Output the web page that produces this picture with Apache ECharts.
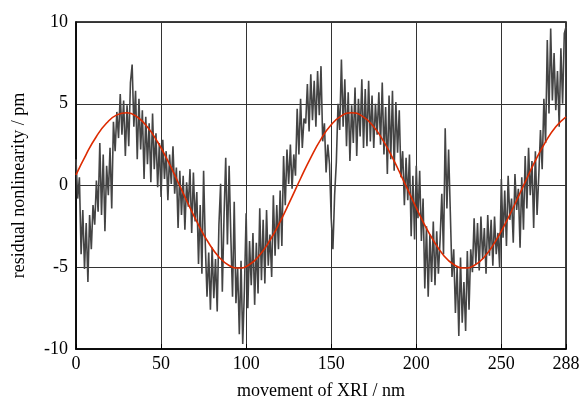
<!DOCTYPE html>
<html>
<head>
    <meta charset="utf-8">
    <title>residual nonlinearity</title>
    <script src="https://cdn.jsdelivr.net/npm/echarts@6/dist/echarts.min.js"></script>
    <style>
        html, body { margin: 0; padding: 0; background: #fff; }
    </style>
</head>
<body>
    <div id="chart" style="width: 583px;height:405px;"></div>

    <script type="text/javascript">
        // measured residual, one value per nm (x = 0..288)
        var measured = [
            1.6, -0.8, 0.5, -4.2, -1.5, -5.1, -2.3, -5.9, -1.8, -3.9,
            -1.2, -2.4, 0.3, -1.6, 2.6, -1.8, 1.9, -2.8, 1.2, -0.6,
            2.3, -1.4, 3.9, 2.1, 4.5, 2.9, 5.6, 3.1, 5.2, 1.8,
            4.9, 2.4, 6.3, 7.4, 3.6, 5.8, 1.6, 5.3, 2.2, 4.6,
            0.4, 4.2, 1.3, 3.8, 0.2, 4.4, 1.0, 3.2, -0.1, 2.6,
            -0.7, 2.8, 0.4, 2.1, -0.9, 1.9, 0.1, 2.4, -0.5, 1.1,
            -2.6, 0.9, -1.8, 0.6, -2.7, 0.2, -1.3, 1.0, -2.9, 0.8,
            -2.2, -0.4, -4.8, -1.2, -5.4, 0.9, -3.6, -6.8, -4.1, -7.6,
            -3.8, -6.9, -4.5, -7.7, -2.4, 0.1, -6.5, -1.9, 1.7, -3.6,
            1.2, -3.1, -6.8, -1.0, -7.2, -5.0, -9.1, -4.6, -9.7, -6.3,
            -1.7, -7.5, -3.4, -6.1, -2.9, -7.3, -3.5, -6.6, -1.4, -5.8,
            -2.1, -6.0, -1.5, -4.9, -3.0, -5.6, -0.6, -4.3, -1.2, -3.9,
            -0.3, -3.7, 1.8, -1.2, 2.2, 0.1, 2.5, -0.2, 1.9, 0.6,
            4.7, 1.9, 5.3, 2.3, 4.1, 3.8, 6.2, 3.3, 6.8, 4.0,
            6.4, 3.6, 7.0, 4.3, 7.3, 2.7, 3.8, 0.8, 2.5, 1.3,
            -2.0, -3.9, -0.6, 1.4, 5.0, 3.4, 7.7, 3.6, 6.5, 2.4,
            5.7, 1.5, 4.9, 2.6, 6.0, 1.8, 5.3, 3.0, 6.5, 2.3,
            5.9, 2.4, 6.4, 2.7, 5.5, 2.3, 5.0, 3.1, 5.7, 2.5,
            6.3, 1.9, 4.8, 0.7, 5.5, 1.6, 5.8, 0.9, 5.1, 2.0,
            4.6, 0.5, 2.1, -1.2, 1.7, -0.9, 1.9, -3.1, 0.6, -3.3,
            1.2, -2.0, 0.9, -3.4, -0.8, -6.3, -2.5, -6.8, -3.0, -5.9,
            -2.2, -6.1, -2.8, -5.4, -3.3, -0.5, -4.2, 3.5, -1.4, 2.2,
            -1.6, -5.6, -3.9, -7.8, -5.0, -9.2, -4.4, -8.4, -5.9, -8.9,
            -4.0, -7.6, -3.9, -5.3, -2.0, -4.8, -2.3, -5.2, -1.9, -4.5,
            -2.6, -5.4, -1.8, -4.3, -2.1, -4.9, -1.9, -4.2, -2.9, -5.0,
            0.4, -3.2, -0.3, -3.7, 0.6, -2.1, -0.8, -3.5, 0.7, -1.5,
            -0.2, -3.8, 0.5, -2.7, 1.8, -1.4, 2.3, -0.6, 1.5, -2.6,
            2.1, -1.8, 0.6, 3.4, 1.0, 5.3, 2.6, 8.9, 4.4, 9.6,
            5.2, 8.1, 4.6, 7.0, 3.6, 8.4, 5.0, 9.3, 9.7
        ];

        // fitted curve, sampled every 6 nm
        var fitX = [0, 6, 12, 18, 24, 30, 36, 42, 48, 54, 60, 66, 72, 78, 84, 90, 96,
            102, 108, 114, 120, 126, 132, 138, 144, 150, 156, 162, 168, 174, 180, 186, 192,
            198, 204, 210, 216, 222, 228, 234, 240, 246, 252, 258, 264, 270, 276, 282, 288];
        var fitY = [0.65, 1.91, 3.00, 3.82, 4.32, 4.45, 4.19, 3.58, 2.66, 1.50, 0.20, -1.14,
            -2.41, -3.52, -4.37, -4.89, -5.05, -4.83, -4.25, -3.35, -2.21, -0.91, 0.43, 1.71,
            2.84, 3.71, 4.26, 4.45, 4.26, 3.71, 2.84, 1.71, 0.41, -0.92, -2.22, -3.35, -4.26,
            -4.83, -5.05, -4.89, -4.37, -3.51, -2.40, -1.13, 0.21, 1.52, 2.67, 3.59, 4.20];

        var chart = echarts.init(document.getElementById('chart'));

        var measuredData = measured.map(function (v, i) { return [i, v]; });
        var fitData = fitX.map(function (x, i) { return [x, fitY[i]]; });

        var font = 'Liberation Serif';

        chart.setOption({
            animation: false,
            grid: {
                left: 76,
                top: 22,
                right: 17,
                bottom: 55,
                show: true,
                borderColor: '#000',
                borderWidth: 1.5
            },
            xAxis: {
                type: 'value',
                min: 0,
                max: 288,
                interval: 50,
                name: 'movement of XRI / nm',
                nameLocation: 'middle',
                nameGap: 33,
                nameTextStyle: { fontFamily: font, fontSize: 18, color: '#000' },
                axisLine: { onZero: false, lineStyle: { color: '#000', width: 1.5 } },
                axisTick: { inside: true, length: 5, lineStyle: { color: '#000' } },
                axisLabel: { fontFamily: font, fontSize: 18, color: '#000', margin: 6 },
                splitLine: { show: true, lineStyle: { color: '#333', width: 1 } }
            },
            yAxis: {
                type: 'value',
                min: -10,
                max: 10,
                interval: 5,
                name: 'residual nonlinearity / pm',
                nameLocation: 'middle',
                nameGap: 48,
                nameTextStyle: { fontFamily: font, fontSize: 18, color: '#000' },
                axisLine: { show: true, onZero: false, lineStyle: { color: '#000', width: 1.5 } },
                axisTick: { show: false },
                axisLabel: { fontFamily: font, fontSize: 18, color: '#000', margin: 8 },
                splitLine: { show: true, lineStyle: { color: '#333', width: 1 } }
            },
            series: [
                {
                    name: 'measured',
                    type: 'line',
                    data: measuredData,
                    showSymbol: false,
                    symbol: 'none',
                    lineStyle: { color: '#444', width: 1.6 },
                    z: 2
                },
                {
                    name: 'fit',
                    type: 'line',
                    data: fitData,
                    smooth: true,
                    showSymbol: false,
                    symbol: 'none',
                    lineStyle: { color: '#dd2a00', width: 1.6 },
                    z: 3
                }
            ]
        });
    </script>
</body>
</html>
